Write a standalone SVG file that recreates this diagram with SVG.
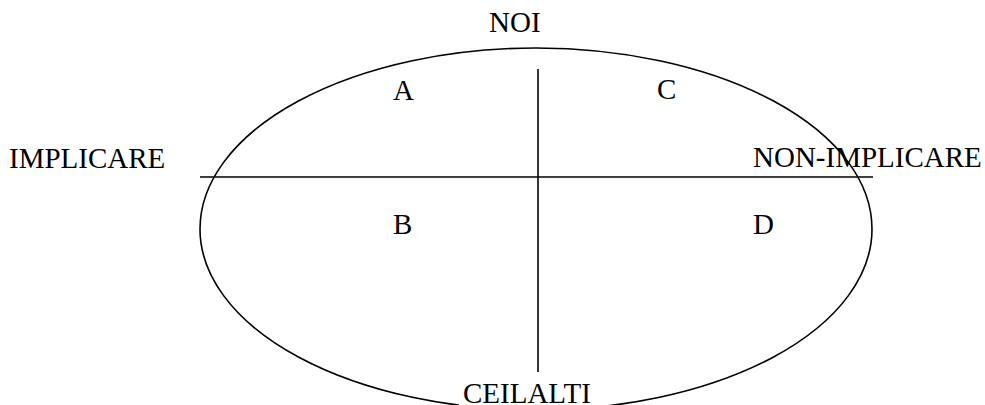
<svg xmlns="http://www.w3.org/2000/svg" width="985" height="405" viewBox="0 0 985 405">
<style>
.t{font-family:"Liberation Serif","Times New Roman",serif;font-size:29px;fill:#000}
.s{fill:none;stroke:#000;stroke-width:1.6}
</style>
<rect width="985" height="405" fill="#fff"/>
<g id="ellipse"><ellipse class="s" cx="536" cy="229" rx="336" ry="181"/></g>
<g id="connectors">
<line class="s" x1="200" y1="177" x2="873" y2="177"/>
<line class="s" x1="538" y1="69" x2="538" y2="372"/>
</g>
<g id="noi"><text class="t" x="489" y="32">NOI</text></g>
<g id="implicare"><text class="t" x="9" y="168">IMPLICARE</text></g>
<g id="non-implicare"><text class="t" x="753" y="167">NON-IMPLICARE</text></g>
<g id="ceilalti"><rect x="459" y="381" width="138" height="24" fill="#fff"/><text class="t" x="463" y="403">CEILALTI</text></g>
<g id="a"><text class="t" x="393" y="100">A</text></g>
<g id="c"><text class="t" x="657" y="99">C</text></g>
<g id="b"><text class="t" x="393" y="234">B</text></g>
<g id="d"><text class="t" x="753" y="234">D</text></g>
</svg>
